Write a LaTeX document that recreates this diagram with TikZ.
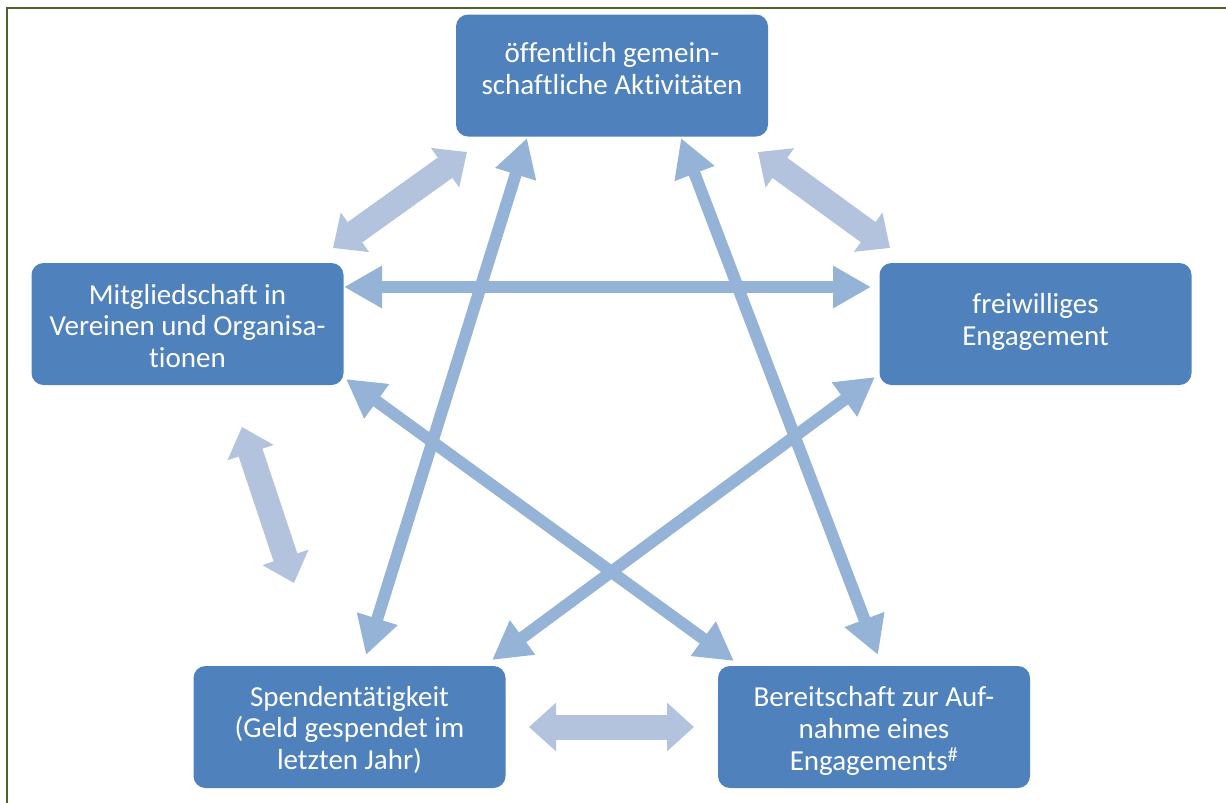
\documentclass[tikz,border=0pt]{standalone}
\usepackage{fontspec}
\setmainfont{Carlito}[Ligatures=CommonOff]
\usetikzlibrary{arrows.meta}
\definecolor{boxblue}{HTML}{4F81BD}
\definecolor{stararrow}{HTML}{95B3D7}
\definecolor{lightarrow}{HTML}{B3C3DE}
\definecolor{frameolive}{HTML}{4F6228}
% #1 = how far the text block is moved up inside its box
\newcommand\mylines[2]{\raisebox{0pt}[\dimexpr\height-#1\relax][\dimexpr\depth+#1\relax]{\begin{tabular}{@{}c@{}}#2\end{tabular}}}
\tikzset{
  infobox/.style={rectangle, rounded corners=12pt, fill=boxblue, text=white,
    minimum width=312pt, minimum height=122pt, align=center, inner sep=0pt,
    font=\fontsize{29pt}{31.5pt}\selectfont},
  thinarrow/.style={draw=stararrow, line width=12pt,
    {Triangle[width=40pt,length=38pt]}-{Triangle[width=40pt,length=38pt]}},
  widearrow/.style={draw=lightarrow, line width=25pt,
    {Triangle[width=47pt,length=27pt]}-{Triangle[width=47pt,length=27pt]}}
}
\begin{document}
\begin{tikzpicture}[x=1pt,y=-1pt]
\useasboundingbox (0,0) rectangle (1226,803);
% frame
\draw[frameolive, line width=1.5pt] (7,803) -- (7,8) -- (1226,8);
% boxes
\node[infobox] (top) at (612,75.5) {\mylines{3.5pt}{öffentlich gemein-\\schaftliche Aktivitäten}};
\node[infobox] (left) at (187.5,324) {\mylines{-5.5pt}{Mitgliedschaft in\\Vereinen und Organisa-\\tionen}};
\node[infobox] (right) at (1035.5,324) {\mylines{1pt}{freiwilliges\\Engagement}};
\node[infobox] (bl) at (349.5,727) {\mylines{-4.5pt}{Spendentätigkeit\\(Geld gespendet im\\letzten Jahr)}};
\node[infobox] (br) at (874,727) {\mylines{-5.5pt}{Bereitschaft zur Auf-\\nahme eines\\Engagements\textsuperscript{\#}}};
% arrow end points
\coordinate (hA) at (344,287);   \coordinate (hB) at (871,287);
\coordinate (bA) at (527,138);   \coordinate (bB) at (366,655);
\coordinate (cA) at (681,138);   \coordinate (cB) at (878,655);
\coordinate (dA) at (346,379);   \coordinate (dB) at (734,661);
\coordinate (eA) at (875,377);   \coordinate (eB) at (492,660);
\coordinate (fA) at (333,248);   \coordinate (fB) at (467,152);
\coordinate (gA) at (758,152);   \coordinate (gB) at (890,248);
\coordinate (iA) at (242,427);   \coordinate (iB) at (294,583);
\coordinate (jA) at (529,727);   \coordinate (jB) at (694,727);
% star arrows
\draw[thinarrow] (hA) -- (hB);
\draw[thinarrow] (bA) -- (bB);
\draw[thinarrow] (cA) -- (cB);
\draw[thinarrow] (dA) -- (dB);
\draw[thinarrow] (eA) -- (eB);
% outer light arrows
\draw[widearrow] (fA) -- (fB);
\draw[widearrow] (gA) -- (gB);
\draw[widearrow] (iA) -- (iB);
\draw[widearrow] (jA) -- (jB);
\end{tikzpicture}
\end{document}
